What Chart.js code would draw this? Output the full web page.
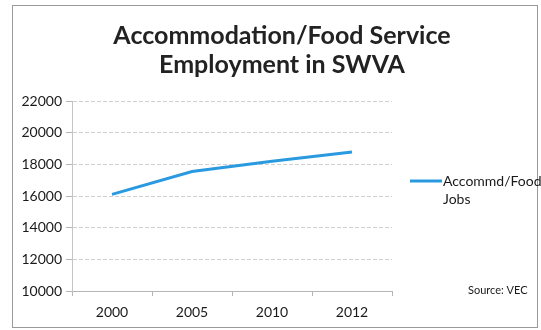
<!DOCTYPE html>
<html>
<head>
<meta charset="utf-8">
<script src="https://cdn.jsdelivr.net/npm/chart.js@4"></script>
<style>
  html, body { margin: 0; padding: 0; background: #fff; }
  #wrap { width: 541px; height: 330px; }
</style>
</head>
<body>
<div id="wrap"><canvas id="jobsChart" width="541" height="330"></canvas></div>
<script>
// Accommodation / food service jobs, SWVA
const years = ["2000", "2005", "2010", "2012"];
const jobs = [16100, 17550, 18200, 18780];
const yTicks = [10000, 12000, 14000, 16000, 18000, 20000, 22000];

const titleLines = ["Accommodation/Food Service", "Employment in SWVA"];
const legendLines = ["Accommd/Food", "Jobs"];
const sourceNote = "Source: VEC";

const FONT = "Lato, 'Open Sans', sans-serif";
const LINE_BLUE = "#2a9ae0";

// title, legend, source note and the outer frame
const decorations = {
    id: "decorations",
    afterDraw(chart) {
        const ctx = chart.ctx;
        ctx.save();

        ctx.strokeStyle = "#9a9a9a";
        ctx.lineWidth = 1;
        ctx.strokeRect(12.5, 5.5, 525, 322);

        ctx.fillStyle = "#222";
        ctx.textAlign = "center";
        ctx.textBaseline = "alphabetic";
        ctx.font = "bold 25px " + FONT;
        ctx.fillText(titleLines[0], 282, 44);
        ctx.fillText(titleLines[1], 282, 73);

        const ds = chart.data.datasets[0];
        ctx.strokeStyle = ds.borderColor;
        ctx.lineWidth = 3;
        ctx.beginPath();
        ctx.moveTo(410, 181);
        ctx.lineTo(442, 181);
        ctx.stroke();

        ctx.textAlign = "left";
        ctx.font = "14px " + FONT;
        ctx.fillStyle = "#1a1a1a";
        ctx.fillText(legendLines[0], 443, 186);
        ctx.fillText(legendLines[1], 443, 204);

        ctx.font = "11px " + FONT;
        ctx.fillText(sourceNote, 468, 294);

        ctx.restore();
    }
};

const chart = new Chart(document.getElementById("jobsChart"), {
    type: "line",
    data: {
        labels: years,
        datasets: [{
            label: legendLines.join(" "),
            data: jobs,
            borderColor: LINE_BLUE,
            borderWidth: 3,
            pointRadius: 0,
            tension: 0,
            fill: false
        }]
    },
    options: {
        responsive: false,
        animation: false,
        layout: { padding: { top: 101, left: 0, right: 149, bottom: 0 } },
        plugins: {
            legend: { display: false },
            title: { display: false },
            tooltip: { enabled: false }
        },
        scales: {
            x: {
                offset: true,
                grid: {
                    offset: true,
                    drawOnChartArea: false,
                    tickLength: 5,
                    color: "#b5b5b5"
                },
                border: { color: "#b5b5b5" },
                ticks: {
                    padding: 8,
                    color: "#1a1a1a",
                    font: { family: FONT, size: 14 }
                },
                afterFit(scale) { scale.height = 39; }
            },
            y: {
                min: 10000,
                max: 22000,
                afterBuildTicks(scale) {
                    scale.ticks = yTicks.map(v => ({ value: v }));
                },
                grid: {
                    color: "#cfcfcf",
                    tickLength: 6,
                    tickColor: "#b5b5b5"
                },
                border: { color: "#c4c4c4", dash: [4, 2] },
                ticks: {
                    padding: 4,
                    color: "#1a1a1a",
                    font: { family: FONT, size: 14 },
                    callback: v => String(v)
                },
                afterFit(scale) { scale.width = 72; }
            }
        }
    },
    plugins: [decorations]
});
</script>
</body>
</html>
